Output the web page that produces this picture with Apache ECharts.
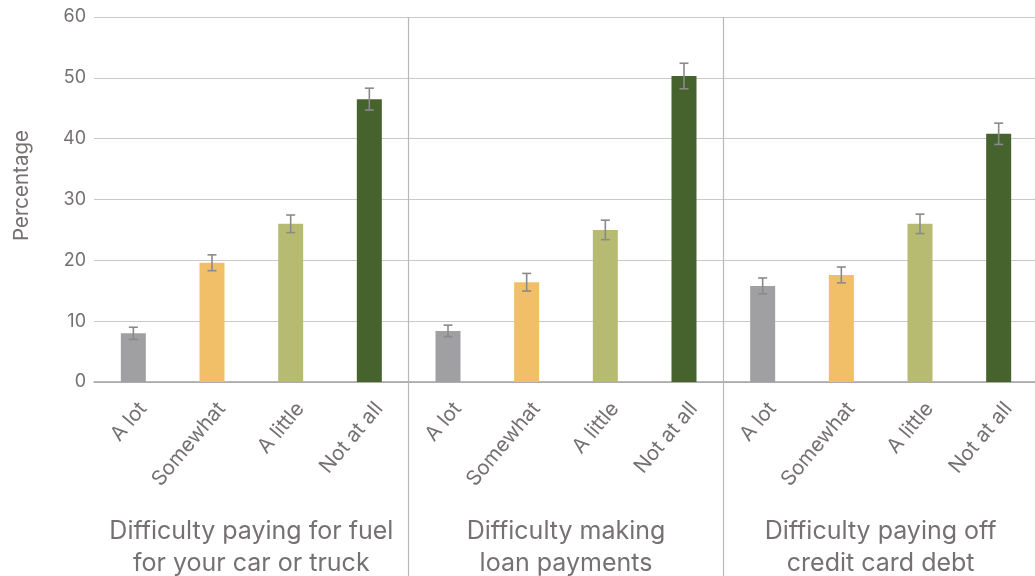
<!DOCTYPE html>
<html>
<head>
<meta charset="utf-8">
<script src="https://cdn.jsdelivr.net/npm/echarts@6/dist/echarts.min.js"></script>
<style>
  html, body { margin: 0; padding: 0; background: #ffffff; }
  #chart { width: 1035px; height: 576px; }
</style>
</head>
<body>
<div id="chart"></div>
<script>
// Response levels shown under every group
const responses = ['A lot', 'Somewhat', 'A little', 'Not at all'];
// Survey question groups
const groups = [
  'Difficulty paying for fuel\nfor your car or truck',
  'Difficulty making\nloan payments',
  'Difficulty paying off\ncredit card debt'
];
// Percentages per group (A lot, Somewhat, A little, Not at all)
const fuelValues = [8.0, 19.6, 26.0, 46.5];
const loanValues = [8.4, 16.4, 25.0, 50.3];
const creditValues = [15.8, 17.6, 26.0, 40.8];
// Half-width of the error bars, same order
const fuelErrors = [1.0, 1.3, 1.45, 1.8];
const loanErrors = [0.95, 1.45, 1.6, 2.1];
const creditErrors = [1.3, 1.3, 1.6, 1.75];
// Y axis ticks
const yTicks = [0, 10, 20, 30, 40, 50, 60];

const responseColors = ['#a0a0a2', '#f0bf67', '#b7bb71', '#46632e'];
const textColor = '#767171';
const fontFamily = 'Inter, "Liberation Sans", Arial, sans-serif';

const categories = [].concat(responses, responses, responses);
const values = [].concat(fuelValues, loanValues, creditValues);
const errors = [].concat(fuelErrors, loanErrors, creditErrors);

const barData = values.map((v, i) => ({
  value: v,
  itemStyle: { color: responseColors[i % responses.length] }
}));
const errData = values.map((v, i) => [i, v - errors[i], v + errors[i]]);

const chart = echarts.init(document.getElementById('chart'), null, { renderer: 'canvas' });

chart.setOption({
  animation: false,
  backgroundColor: '#ffffff',
  textStyle: { fontFamily: fontFamily },
  grid: {
    left: 94, right: -3, top: 17, bottom: 194,
    containLabel: false,
    outerBoundsMode: 'none'
  },
  xAxis: [
    {
      type: 'category',
      data: categories,
      position: 'bottom',
      axisLine: { show: true, lineStyle: { color: '#a3a3a3', width: 1.5 } },
      axisTick: { show: false },
      splitLine: { show: false },
      axisLabel: {
        interval: 0,
        rotate: 50,
        margin: 15,
        verticalAlign: 'top',
        padding: [2, 0, 0, 0],
        color: textColor,
        fontSize: 20.5,
        fontFamily: fontFamily
      }
    },
    {
      type: 'category',
      data: groups,
      position: 'bottom',
      axisLine: { show: false },
      axisTick: {
        show: true,
        length: 194,
        interval: (i) => i !== 0,
        lineStyle: { color: '#b8b8b8', width: 1.2 }
      },
      splitLine: {
        show: true,
        interval: (i) => i !== 0,
        lineStyle: { color: '#b8b8b8', width: 1.2 }
      },
      axisLabel: {
        interval: 0,
        margin: 133,
        color: textColor,
        fontSize: 25,
        lineHeight: 32,
        fontFamily: fontFamily
      }
    }
  ],
  yAxis: {
    type: 'value',
    min: yTicks[0],
    max: yTicks[yTicks.length - 1],
    interval: yTicks[1] - yTicks[0],
    name: 'Percentage',
    nameLocation: 'middle',
    nameGap: 62,
    nameTextStyle: {
      color: textColor,
      fontSize: 20.5,
      fontFamily: fontFamily,
      padding: [0, 0, 0, 28]
    },
    axisLine: { show: false },
    axisTick: { show: false },
    axisLabel: { color: textColor, fontSize: 18, margin: 8, fontFamily: fontFamily },
    splitLine: { lineStyle: { color: '#c9c9c9', width: 1.2 } }
  },
  series: [
    {
      type: 'bar',
      xAxisIndex: 0,
      data: barData,
      barWidth: 25
    },
    {
      type: 'custom',
      xAxisIndex: 0,
      data: errData,
      z: 5,
      renderItem: function (params, api) {
        const idx = api.value(0);
        const lo = api.coord([idx, api.value(1)]);
        const hi = api.coord([idx, api.value(2)]);
        const cap = 4.5;
        const style = { stroke: '#8a8a8a', lineWidth: 1.6 };
        return {
          type: 'group',
          children: [
            { type: 'line', shape: { x1: hi[0], y1: hi[1], x2: lo[0], y2: lo[1] }, style: style },
            { type: 'line', shape: { x1: hi[0] - cap, y1: hi[1], x2: hi[0] + cap, y2: hi[1] }, style: style },
            { type: 'line', shape: { x1: lo[0] - cap, y1: lo[1], x2: lo[0] + cap, y2: lo[1] }, style: style }
          ]
        };
      }
    }
  ]
});
</script>
</body>
</html>
